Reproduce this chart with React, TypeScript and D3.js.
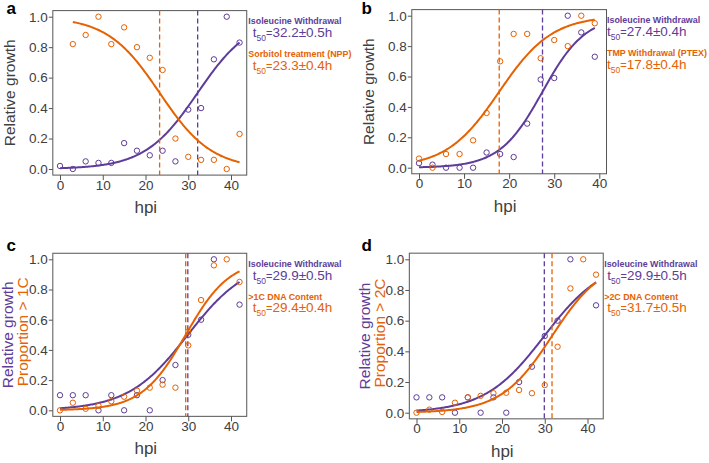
import React, { useEffect, useRef } from 'react'
import { select, scaleLinear, axisBottom, axisLeft, line, range } from 'd3'

const PURPLE = '#5e3c99'
const ORANGE = '#e66101'
const GREY = '#404040'
const FONT = '"Liberation Sans", Arial, sans-serif'

const xTicks = [0, 10, 20, 30, 40]
const yTicks = [0, 0.2, 0.4, 0.6, 0.8, 1.0]

// hpi sampling
const hpi = [0, 3, 6, 9, 12, 15, 18, 21, 24, 27, 30, 33, 36, 39, 42]
const hpiB = [0, 3, 6, 9, 12, 15, 18, 21, 24, 27, 30, 33, 36, 39]
const hpiSorb = [3, 6, 9, 12, 15, 18, 21, 24, 27, 30, 33, 36, 39, 42]
const hpiIsoCD = [0, 3, 6, 9, 12, 15, 18, 21, 24, 27, 30, 33, 36, 42]
const hpi1C = [0, 3, 6, 9, 12, 15, 18, 21, 24, 27, 30, 30, 33, 36, 39, 42]

// a
const isoA = [0.02, 0, 0.05, 0.04, 0.04, 0.17, 0.12, 0.09, 0.12, 0.05, 0.39, 0.4, 0.72, 1.0, 0.83]
const sorbA = [0.82, 0.88, 1.0, 0.82, 0.93, 0.8, 0.73, 0.65, 0.2, 0.08, 0.06, 0.06, 0, 0.23]
// b
const isoB = [0.03, 0.02, 0, 0, 0, 0.1, 0.09, 0.07, 0.29, 0.58, 0.59, 1.0, 0.89, 0.73]
const tmpB = [0.06, 0, 0.09, 0.09, 0.18, 0.36, 0.7, 0.88, 0.88, 0.72, 0.84, 0.8, 1.0, 0.95]
// c, d
const isoCD = [0.1, 0.1, 0.1, 0, 0.1, 0, 0.1, 0, 0.2, 0.3, 0.5, 0.6, 1.0, 0.7]
const dna1C = [0, 0.05, 0.01, 0.03, 0.06, 0.09, 0.13, 0.15, 0.17, 0.15, 0.52, 0.43, 0.73, 0.96, 1.0, 0.85]
const dna2C = [0, 0.02, 0.005, 0.065, 0.1, 0.11, 0.127, 0.13, 0.148, 0.127, 0.18, 0.43, 0.81, 1.0, 0.9]

// logistic fits: [t50, slope, from, to]
const fitIsoA = [32.2, 0.162, 0, 42]
const fitSorbA = [23.3, -0.164, 3, 42]
const fitIsoB = [27.4, 0.21, 0, 39]
const fitTmpB = [17.8, 0.171, 0, 39]
const fitIsoCD = [29.9, 0.143, 0, 42]
const fit1C = [29.4, 0.194, 0, 42]
const fit2C = [31.7, 0.168, 0, 42]

const t50Labels = ['32.2±0.5h', '23.3±0.4h', '27.4±0.4h', '17.8±0.4h', '29.9±0.5h', '29.4±0.4h', '29.9±0.5h', '31.7±0.5h']

type Series = { xs: number[]; ys: number[]; fit: number[]; color: string }

const panels = [
  {
    letter: 'a', px0: 60, px40: 231, py0: 169, py1: 16.7, xMax: 42, lx: [1.6, 6],
    series: [
      { xs: hpi, ys: isoA, fit: fitIsoA, color: PURPLE },
      { xs: hpiSorb, ys: sorbA, fit: fitSorbA, color: ORANGE },
    ],
    names: ['Isoleucine Withdrawal', 'Sorbitol treatment (NPP)'], t50s: [t50Labels[0], t50Labels[1]],
    ylab: null,
  },
  {
    letter: 'b', px0: 419, px40: 599.3, py0: 167.7, py1: 15.7, xMax: 40, lx: [0.5, 0.5],
    series: [
      { xs: hpiB, ys: isoB, fit: fitIsoB, color: PURPLE },
      { xs: hpiB, ys: tmpB, fit: fitTmpB, color: ORANGE },
    ],
    names: ['Isoleucine Withdrawal', 'TMP Withdrawal (PTEX)'], t50s: [t50Labels[2], t50Labels[3]],
    ylab: null,
  },
  {
    letter: 'c', px0: 60, px40: 231, py0: 410.3, py1: 259.3, xMax: 42, lx: [1.6, 6],
    series: [
      { xs: hpiIsoCD, ys: isoCD, fit: fitIsoCD, color: PURPLE },
      { xs: hpi1C, ys: dna1C, fit: fit1C, color: ORANGE },
    ],
    names: ['Isoleucine Withdrawal', '>1C DNA Content'], t50s: [t50Labels[4], t50Labels[5]],
    ylab: 'Proportion > 1C',
  },
  {
    letter: 'd', px0: 416.5, px40: 587.5, py0: 412.7, py1: 259.3, xMax: 42, lx: [1, 4],
    series: [
      { xs: hpiIsoCD, ys: isoCD, fit: fitIsoCD, color: PURPLE },
      { xs: hpi, ys: dna2C, fit: fit2C, color: ORANGE },
    ],
    names: ['Isoleucine Withdrawal', '>2C DNA Content'], t50s: [t50Labels[6], t50Labels[7]],
    ylab: 'Proportion > 2C',
  },
]

const Panel = ({ p }: { p: any }) => {
  const xRef = useRef<SVGGElement>(null)
  const yRef = useRef<SVGGElement>(null)
  const x = scaleLinear().domain([0, 40]).range([p.px0, p.px40])
  const y = scaleLinear().domain([0, 1]).range([p.py0, p.py1])
  const boxL = x(-0.04 * p.xMax)
  const boxR = x(1.04 * p.xMax)
  const boxT = y(1.04)
  const boxB = y(-0.04)

  useEffect(() => {
    const gx = select(xRef.current)
    gx.call(axisBottom(x).tickValues(xTicks).tickSize(5).tickPadding(0))
    gx.select('.domain').remove()
    gx.attr('font-size', 13.5).attr('font-family', FONT)
    gx.selectAll('line').attr('stroke', '#555')
    gx.selectAll('text').attr('fill', GREY)

    const gy = select(yRef.current)
    gy.call(axisLeft(y).tickValues(yTicks).tickSize(4).tickPadding(1).tickFormat((d: any) => d.toFixed(1)))
    gy.select('.domain').remove()
    gy.attr('font-size', 13.5).attr('font-family', FONT)
    gy.selectAll('line').attr('stroke', '#555')
    gy.selectAll('text').attr('fill', GREY)
  }, [])

  const curve = line<number[]>().x(d => x(d[0])).y(d => y(d[1]))
  const midY = (boxT + boxB) / 2
  const legY = [13.4, 26.5, 46.8, 59].map(v => boxT + v)

  return (
    <g>
      <text x={p.letter === 'a' || p.letter === 'c' ? 6.5 : 361.5} y={p.letter === 'a' || p.letter === 'b' ? 13.5 : 251}
        fontFamily={FONT} fontWeight="bold" fontSize={17}>{p.letter}</text>
      <rect x={boxL} y={boxT} width={boxR - boxL} height={boxB - boxT} fill="none" stroke="#555" strokeWidth={1} />
      <g ref={xRef} transform={`translate(0,${boxB})`} />
      <g ref={yRef} transform={`translate(${boxL},0)`} />
      <text x={(boxL + boxR) / 2 - 4} y={boxB + 38} textAnchor="middle" fontFamily={FONT} fontSize={17} fill={GREY}>hpi</text>
      {p.ylab === null ? (
        <text transform={`translate(${boxL - 38},${midY}) rotate(-90)`} textAnchor="middle" fontFamily={FONT} fontSize={15.5} fill={GREY}>Relative growth</text>
      ) : (
        <g>
          <text transform={`translate(${boxL - 39.5},${midY}) rotate(-90)`} textAnchor="middle" fontFamily={FONT} fontSize={15.5} fill={PURPLE}>Relative growth</text>
          <text transform={`translate(${boxL - 24.5},${midY - 3}) rotate(-90)`} textAnchor="middle" fontFamily={FONT} fontSize={15.5} fill={ORANGE}>{p.ylab}</text>
        </g>
      )}
      {p.series.map((s: Series, i: number) => {
        const [t50, k, from, to] = s.fit
        const pts = range(from, to + 1e-9, 0.25).map(t => [t, 1 / (1 + Math.exp(-k * (t - t50)))])
        return (
          <g key={i}>
            <line x1={x(t50)} x2={x(t50)} y1={boxT} y2={boxB} stroke={s.color} strokeWidth={1.3} strokeDasharray="5,3" />
            <path d={curve(pts) || ''} fill="none" stroke={s.color} strokeWidth={2} />
            {s.xs.map((xv, j) => (
              <circle key={j} cx={x(xv)} cy={y(s.ys[j])} r={2.7} fill="none" stroke={s.color} strokeWidth={1} />
            ))}
          </g>
        )
      })}
      {[0, 1].map(i => {
        const color = i === 0 ? PURPLE : ORANGE
        return (
          <g key={i} fill={color} fontFamily={FONT}>
            <text x={boxR + p.lx[0]} y={legY[i * 2]} fontSize={8.9} fontWeight="bold">{p.names[i]}</text>
            <text x={boxR + p.lx[1]} y={legY[i * 2 + 1]} fontSize={13.5}>
              t<tspan fontSize={8.5} dy={4}>50</tspan>
              <tspan fontSize={11} dy={-4}>=</tspan>
              <tspan fontSize={13.5}>{p.t50s[i]}</tspan>
            </text>
          </g>
        )
      })}
    </g>
  )
}

const App = () => {
  return (
    <svg width={709} height={463} style={{ position: 'absolute', left: 0, top: 0, background: '#fff' }}>
      {panels.map(p => <Panel key={p.letter} p={p} />)}
    </svg>
  )
}

export default App
